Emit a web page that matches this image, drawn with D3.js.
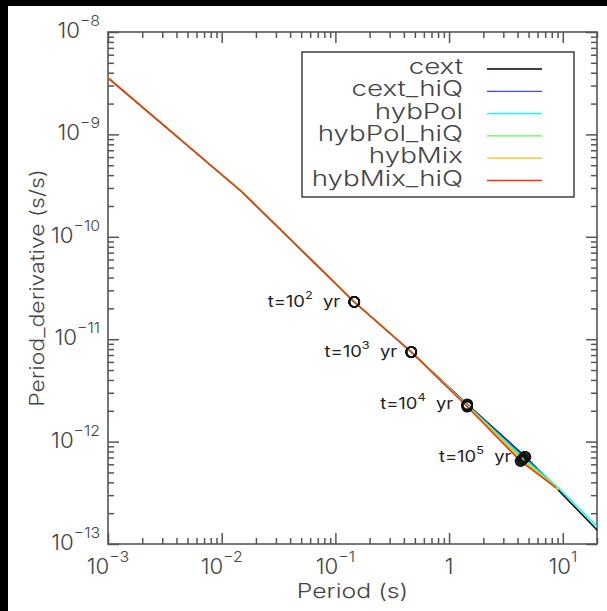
<!DOCTYPE html>
<html><head><meta charset="utf-8">
<script src="https://cdn.jsdelivr.net/npm/d3@7"></script>
<style>body{margin:0;background:#000;} svg{display:block}</style>
</head><body>
<svg id="c" width="607" height="611"></svg>
<script>
// ---- data ----
const seriesNames  = ["cext","cext_hiQ","hybPol","hybPol_hiQ","hybMix","hybMix_hiQ"];
const seriesColors = ["#000000","#4646ee","#00ffff","#55ff55","#ffc000","#ee3311"];

const cextP       = [0.001, 0.0151, 0.1466, 0.465, 1.445, 4.7, 9.15, 20];
const cextPdot    = [3.56e-9, 2.74e-10, 2.31e-11, 7.50e-12, 2.31e-12, 7.1e-13, 3.36e-13, 1.37e-13];
const cextHiQP    = [0.001, 0.0151, 0.1466, 0.465, 1.445, 4.6, 9.15];
const cextHiQPdot = [3.56e-9, 2.74e-10, 2.31e-11, 7.50e-12, 2.29e-12, 7.1e-13, 3.44e-13];
const hybPolP       = [0.001, 0.0151, 0.1466, 0.465, 1.445, 4.5, 9.15, 20];
const hybPolPdot    = [3.56e-9, 2.74e-10, 2.31e-11, 7.50e-12, 2.27e-12, 6.9e-13, 3.52e-13, 1.47e-13];
const hybPolHiQP    = [0.001, 0.0151, 0.1466, 0.465, 1.445, 4.45, 9.15];
const hybPolHiQPdot = [3.56e-9, 2.74e-10, 2.31e-11, 7.50e-12, 2.24e-12, 6.75e-13, 3.44e-13];
const hybMixP       = [0.001, 0.0151, 0.1466, 0.465, 1.445, 4.35, 9.15];
const hybMixPdot    = [3.56e-9, 2.74e-10, 2.31e-11, 7.50e-12, 2.22e-12, 6.6e-13, 3.38e-13];
const hybMixHiQP    = [0.001, 0.0151, 0.1466, 0.465, 1.445, 4.25, 8.7];
const hybMixHiQPdot = [3.56e-9, 2.74e-10, 2.31e-11, 7.50e-12, 2.19e-12, 6.45e-13, 3.55e-13];

const markerIndex = [2, 3, 4, 5];          // points at t = 1e2, 1e3, 1e4, 1e5 yr
const markerExp   = ["2", "3", "4", "5"];

const xTickVals = [1e-3, 1e-2, 1e-1, 1, 10];
const xTickBase = ["10", "10", "10", "1", "10"];
const xTickExp  = ["\u22123", "\u22122", "\u22121", "", "1"];
const yTickVals = [1e-13, 1e-12, 1e-11, 1e-10, 1e-9, 1e-8];
const yTickExp  = ["\u221213", "\u221212", "\u221211", "\u221210", "\u22129", "\u22128"];

const seriesP    = [cextP, cextHiQP, hybPolP, hybPolHiQP, hybMixP, hybMixHiQP];
const seriesPdot = [cextPdot, cextHiQPdot, hybPolPdot, hybPolHiQPdot, hybMixPdot, hybMixHiQPdot];

// ---- drawing ----
const svg = d3.select("#c");
svg.append("rect").attr("x", 8).attr("y", 6).attr("width", 599).attr("height", 605).attr("fill", "#fff");

const L = 108, R = 597, T = 32, B = 544;
const x = d3.scaleLog().domain([1e-3, 20]).range([L, R]);
const y = d3.scaleLog().domain([1e-13, 1e-8]).range([B, T]);

const isMajor = v => Math.abs(Math.log10(v) - Math.round(Math.log10(v))) < 1e-6;
const xMinor = x.ticks().filter(v => !isMajor(v));
const yMinor = y.ticks().filter(v => !isMajor(v));

const axisColor = "#555";
function styleAxis(g) {
  g.select(".domain").remove();
  g.selectAll("line").attr("stroke", axisColor).attr("stroke-width", 1.5);
}
svg.append("g").attr("transform", `translate(0,${B})`).call(d3.axisBottom(x).tickValues(xTickVals).tickSize(-11).tickFormat("")).call(styleAxis);
svg.append("g").attr("transform", `translate(0,${B})`).call(d3.axisBottom(x).tickValues(xMinor).tickSize(-6).tickFormat("")).call(styleAxis);
svg.append("g").attr("transform", `translate(0,${T})`).call(d3.axisTop(x).tickValues(xTickVals).tickSize(-11).tickFormat("")).call(styleAxis);
svg.append("g").attr("transform", `translate(0,${T})`).call(d3.axisTop(x).tickValues(xMinor).tickSize(-6).tickFormat("")).call(styleAxis);
svg.append("g").attr("transform", `translate(${L},0)`).call(d3.axisLeft(y).tickValues(yTickVals).tickSize(-11).tickFormat("")).call(styleAxis);
svg.append("g").attr("transform", `translate(${L},0)`).call(d3.axisLeft(y).tickValues(yMinor).tickSize(-6).tickFormat("")).call(styleAxis);
svg.append("g").attr("transform", `translate(${R},0)`).call(d3.axisRight(y).tickValues(yTickVals).tickSize(-11).tickFormat("")).call(styleAxis);
svg.append("g").attr("transform", `translate(${R},0)`).call(d3.axisRight(y).tickValues(yMinor).tickSize(-6).tickFormat("")).call(styleAxis);

svg.append("rect").attr("x", L).attr("y", T).attr("width", R - L).attr("height", B - T)
  .attr("fill", "none").attr("stroke", axisColor).attr("stroke-width", 1.6);

const font = "Inter";
const fw = 300;
const txtColor = "#444";

// x tick labels
xTickVals.forEach((v, i) => {
  const t = svg.append("text").attr("transform", `translate(${x(v)},574) scale(1.06,1)`).attr("text-anchor", "middle")
    .attr("font-family", font).attr("font-weight", fw).attr("font-size", 21).attr("fill", txtColor);
  t.append("tspan").text(xTickBase[i]);
  if (xTickExp[i]) t.append("tspan").attr("dy", -12).attr("font-size", 15).text(xTickExp[i]);
});
// y tick labels
yTickVals.forEach((v, i) => {
  const t = svg.append("text").attr("transform", `translate(100,${y(v) + 6}) scale(1.06,1)`).attr("text-anchor", "end")
    .attr("font-family", font).attr("font-weight", fw).attr("font-size", 21).attr("fill", txtColor);
  t.append("tspan").text("10");
  t.append("tspan").attr("dy", -12).attr("font-size", 15).text(yTickExp[i]);
});

// axis titles
svg.append("text").attr("transform", `translate(${(L + R) / 2},598) scale(1.24,1)`)
  .attr("text-anchor", "middle").attr("font-family", font).attr("font-weight", fw).attr("font-size", 20).attr("fill", txtColor)
  .text("Period (s)");
svg.append("text").attr("transform", `translate(44,${(T + B) / 2}) rotate(-90) scale(1.15,1)`)
  .attr("text-anchor", "middle").attr("font-family", font).attr("font-weight", fw).attr("font-size", 20).attr("fill", txtColor)
  .text("Period_derivative (s/s)");

// lines
const line = d3.line().x(d => x(d[0])).y(d => y(d[1]));
const plot = svg.append("g");
seriesNames.forEach((n, i) => {
  const pts = seriesP[i].map((p, k) => [p, seriesPdot[i][k]]);
  plot.append("path").attr("d", line(pts)).attr("fill", "none")
    .attr("stroke", seriesColors[i]).attr("stroke-width", 1.5).attr("stroke-linejoin", "round");
});

// time markers
seriesNames.forEach((n, i) => {
  markerIndex.forEach(k => {
    plot.append("circle").attr("cx", x(seriesP[i][k])).attr("cy", y(seriesPdot[i][k])).attr("r", 5)
      .attr("fill", "none").attr("stroke", "#111").attr("stroke-width", 1.7);
  });
});
// time labels (placed next to cext markers)
markerIndex.forEach((k, j) => {
  const px = x(cextP[k]) - 14, py = y(cextPdot[k]) + 5;
  const t = svg.append("text").attr("transform", `translate(${px},${py}) scale(1.15,1)`).attr("text-anchor", "end")
    .attr("font-family", font).attr("font-weight", 400).attr("font-size", 16).attr("fill", "#222");
  t.append("tspan").text("t=10");
  t.append("tspan").attr("dy", -8).attr("font-size", 11).text(markerExp[j]);
  t.append("tspan").attr("dy", 8).text("\u00a0 yr");
});

// legend
const lg = svg.append("g");
lg.append("rect").attr("x", 302).attr("y", 52).attr("width", 272).attr("height", 145)
  .attr("fill", "#fff").attr("stroke", "#111").attr("stroke-width", 1.2);
seriesNames.forEach((n, i) => {
  const by = 74 + i * 22.3;
  lg.append("text").attr("transform", `translate(463,${by}) scale(1.32,1)`).attr("text-anchor", "end")
    .attr("font-family", font).attr("font-weight", fw).attr("font-size", 21).attr("fill", txtColor).text(n);
  lg.append("line").attr("x1", 487).attr("x2", 542).attr("y1", by - 5).attr("y2", by - 5)
    .attr("stroke", seriesColors[i]).attr("stroke-width", 1.3);
});
</script>
</body></html>
